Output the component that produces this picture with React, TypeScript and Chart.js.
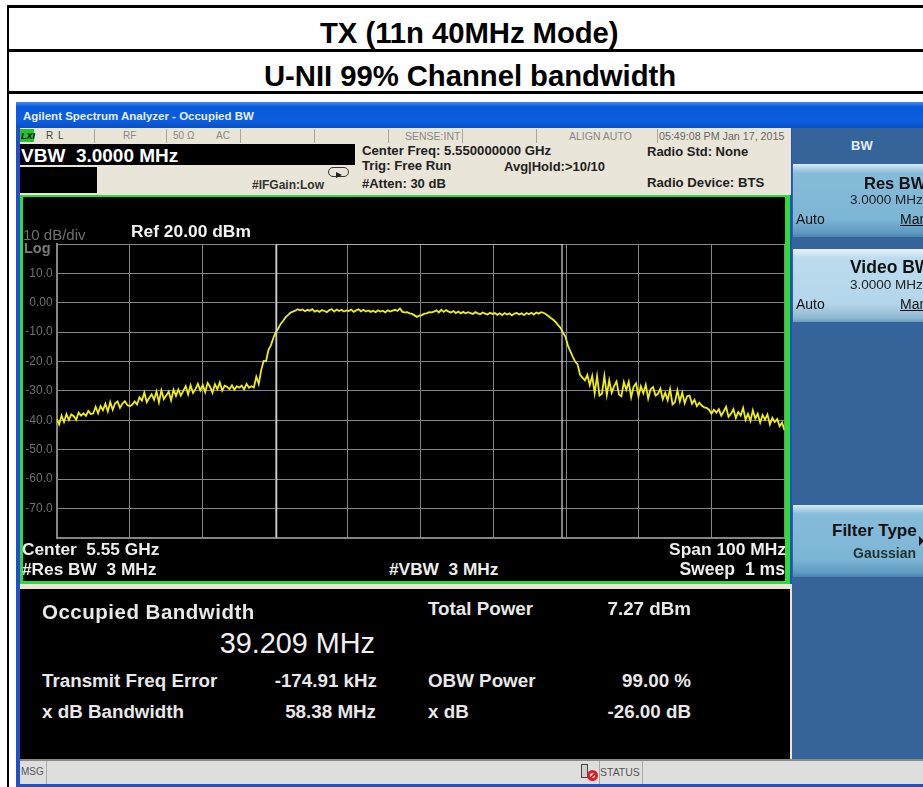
import React, { useEffect, useRef } from "react";
import { Chart, registerables } from "chart.js";

Chart.register(...registerables);

const SANS = '"Liberation Sans", Arial, sans-serif';

const spanMHz = 100;
const startMHz = -50;
const obwLeftMHz = -19.78;
const obwRightMHz = 19.43;
const refLevel = 20;
const bottomLevel = -80;

const yTickLabels = ["", "10.0", "0.00", "-10.0", "-20.0", "-30.0", "-40.0", "-50.0", "-60.0", "-70.0", ""];

const traceDb = [
  -39.6, -41.4, -38.4, -40.6, -37.9, -39.9, -38.0, -38.6, -39.8, -37.4,
  -38.4, -37.6, -38.5, -36.8, -37.9, -37.7, -35.4, -37.6, -35.2, -36.6,
  -34.4, -37.0, -33.8, -36.4, -34.2, -33.6, -35.8, -34.3, -33.5, -34.8,
  -35.2, -34.7, -33.6, -34.6, -32.2, -33.3, -30.6, -33.8, -32.4, -31.2,
  -33.0, -30.2, -33.9, -29.8, -32.8, -31.6, -30.2, -33.2, -29.6, -31.7,
  -29.5, -31.6, -30.0, -28.4, -31.2, -28.1, -30.7, -29.4, -27.6, -29.8,
  -28.0, -30.4, -27.3, -28.6, -30.6, -27.7, -29.4, -27.1, -29.9, -28.2,
  -28.6, -29.4, -28.1, -29.6, -28.4, -28.9, -28.2, -29.5, -27.6, -28.9,
  -28.4, -28.8, -25.2, -27.6, -23.0, -19.8, -19.9, -16.0, -14.5, -12.0,
  -10.0, -8.8, -7.2, -6.2, -5.0, -4.2, -3.4, -3.0, -2.7, -2.2,
  -2.6, -2.3, -2.9, -2.4, -2.7, -2.2, -3.0, -2.6, -3.1, -2.5,
  -2.8, -3.2, -2.5, -2.2, -3.0, -2.3, -2.8, -2.4, -3.0, -2.6,
  -2.8, -2.3, -3.1, -2.6, -2.2, -2.9, -2.4, -3.0, -2.6, -3.1,
  -2.7, -3.2, -2.6, -3.0, -2.7, -3.3, -2.6, -3.0, -2.7, -2.4,
  -2.8, -1.9, -3.1, -3.3, -3.2, -3.6, -3.8, -4.3, -4.8, -4.4,
  -4.2, -3.7, -3.6, -3.2, -3.3, -3.0, -2.6, -3.3, -2.4, -3.1,
  -2.5, -3.0, -3.3, -2.8, -3.5, -3.0, -3.6, -3.1, -3.6, -3.2,
  -3.5, -3.8, -3.2, -3.6, -3.9, -3.3, -3.7, -4.0, -3.4, -3.8,
  -3.5, -4.1, -3.6, -4.2, -3.5, -4.0, -3.6, -4.3, -3.7, -3.5,
  -4.0, -3.6, -4.2, -3.5, -3.9, -3.4, -4.0, -3.3, -3.7, -3.2,
  -3.4, -3.9, -4.5, -5.2, -5.8, -6.6, -7.6, -8.6, -10.2, -11.5,
  -14.5, -16.5, -18.3, -20.0, -21.0, -24.5, -25.5, -26.4, -24.6, -28.0,
  -24.9, -30.8, -25.0, -31.6, -31.0, -24.9, -31.4, -26.4, -30.6, -28.4,
  -26.8, -31.2, -31.8, -27.0, -29.6, -26.9, -32.2, -28.6, -27.4, -31.8,
  -28.4, -30.8, -27.9, -32.6, -29.4, -28.7, -31.6, -31.0, -29.2, -32.8,
  -30.6, -33.2, -29.4, -34.6, -33.8, -29.8, -33.6, -30.6, -34.2, -31.8,
  -31.6, -34.4, -33.0, -35.2, -34.0, -35.0, -35.6, -35.8, -36.4, -37.8,
  -36.4, -37.4, -36.2, -38.4, -37.0, -35.4, -38.8, -37.8, -36.2, -39.2,
  -37.2, -38.4, -35.8, -39.8, -37.8, -40.2, -36.6, -39.4, -37.8, -40.8,
  -38.2, -39.8, -38.0, -41.4, -39.2, -40.6, -39.6, -42.0, -40.8, -43.4,
];

const tracePoints = traceDb.map((y, i) => ({ x: startMHz + (i * spanMHz) / (traceDb.length - 1), y }));
const obwPoints = [
  { x: obwLeftMHz, y: bottomLevel },
  { x: obwLeftMHz, y: refLevel },
  { x: obwRightMHz, y: refLevel },
  { x: obwRightMHz, y: bottomLevel },
];

type TProps = {
  x?: number; r?: number; y: number; s: number; c?: string; b?: boolean | number;
  children: React.ReactNode; u?: boolean; ls?: number; i?: boolean;
};
function T({ x, r, y, s, c = "#000", b = false, children, u, ls, i }: TProps) {
  const style: React.CSSProperties = {
    position: "absolute",
    top: y,
    transform: "translateY(-50%)",
    fontFamily: SANS,
    fontSize: s,
    color: c,
    fontWeight: b === true ? 700 : b === false ? 400 : b,
    fontStyle: i ? "italic" : undefined,
    whiteSpace: "pre",
    lineHeight: 1,
    textDecoration: u ? "underline" : undefined,
    letterSpacing: ls,
  };
  if (r !== undefined) style.right = 923 - r;
  else style.left = x;
  return <div style={style}>{children}</div>;
}

function Box({ l, t, w, h, bg, extra }: { l: number; t: number; w: number; h: number; bg: string; extra?: React.CSSProperties }) {
  return <div style={{ position: "absolute", left: l, top: t, width: w, height: h, background: bg, ...extra }} />;
}

function TraceChart() {
  const ref = useRef<HTMLCanvasElement | null>(null);
  useEffect(() => {
    const chart = new Chart(ref.current as HTMLCanvasElement, {
      type: "line",
      data: {
        datasets: [
          { data: obwPoints, borderColor: "#d8d8d8", borderWidth: 1.2, pointRadius: 0, tension: 0 },
          { data: tracePoints, borderColor: "#eeee10", borderWidth: 1.8, pointRadius: 0, tension: 0 },
        ],
      },
      options: {
        animation: false,
        responsive: false,
        layout: { padding: { top: 46, right: 0.5, bottom: 0, left: 0 } },
        plugins: { legend: { display: false }, tooltip: { enabled: false } },
        scales: {
          x: {
            type: "linear",
            min: startMHz,
            max: startMHz + spanMHz,
            afterFit: (s: any) => { s.height = 0; },
            ticks: { display: false, stepSize: 10 },
            grid: { color: "#858585", lineWidth: 1, drawTicks: false },
            border: { color: "#858585", width: 2 },
          },
          y: {
            type: "linear",
            min: bottomLevel,
            max: refLevel,
            afterFit: (s: any) => { s.width = 33.7; },
            ticks: {
              stepSize: 10,
              padding: 4,
              color: "#6f6f6f",
              font: { family: SANS, size: 12 },
              callback: (v: any) => yTickLabels[(refLevel - Number(v)) / 10] ?? "",
            },
            grid: { color: "#858585", lineWidth: 1, drawTicks: false },
            border: { color: "#858585", width: 2 },
          },
        },
      },
    } as any);
    return () => chart.destroy();
  }, []);
  return (
    <canvas
      ref={ref}
      width={762}
      height={351}
      style={{ position: "absolute", left: 23, top: 198, width: 762, height: 351, display: "block" }}
    />
  );
}

function SoftKey({ t, h, light }: { t: number; h: number; light?: boolean }) {
  const g = light
    ? "linear-gradient(#eaf4fa 0px, #bcdcee 9px, #b4d6ea 75%, #8fb9d2 94%, #6f9cbd 100%)"
    : "linear-gradient(#d8eaf3 0px, #86bcda 9px, #7db5d5 75%, #5f9ac0 94%, #4a83ad 100%)";
  return <Box l={793} t={t} w={130} h={h} bg={g} />;
}

export default function App() {
  return (
    <div style={{ position: "fixed", left: 0, top: 0, width: 923, height: 787, background: "#fff", overflow: "hidden" }}>
      {/* document table */}
      <Box l={7} t={5} w={916} h={2.5} bg="#000" />
      <Box l={7} t={49} w={916} h={2.5} bg="#000" />
      <Box l={7} t={91} w={916} h={2.5} bg="#000" />
      <Box l={7} t={5} w={2} h={782} bg="#000" />
      <T x={320} y={33} s={29.3} b ls={-0.05}>TX (11n 40MHz Mode)</T>
      <T x={264} y={76} s={29.3} b ls={-0.05}>U-NII 99% Channel bandwidth</T>

      {/* analyzer window */}
      <div style={{ position: "absolute", left: 0, top: 0, width: 923, height: 787, filter: "blur(0.45px)" }}>
        <Box l={16} t={102} w={907} h={685} bg="#1e50c8" />
        <Box l={16} t={102} w={907} h={26} bg="linear-gradient(#3f8df0 0px, #0a58d8 5px, #0b5ee0 70%, #0a50c4 100%)" />
        <T x={23} y={117} s={11.5} b c="#e6eefb">Agilent Spectrum Analyzer - Occupied BW</T>

        {/* status row */}
        <Box l={20} t={128} w={771} h={15} bg="#e9e5d8" />
        <Box l={20} t={129} w={14} h={13} bg="#25c22c" />
        <T x={21} y={136} s={9} b i c="#000">LXI</T>
        <T x={46} y={135.5} s={10} c="#444" ls={1}>R L</T>
        <T x={123} y={135.5} s={10} c="#888">RF</T>
        <T x={173} y={135.5} s={10} c="#888">50 Ω</T>
        <T x={216} y={135.5} s={10} c="#888">AC</T>
        <T x={405} y={135.5} s={10.5} c="#888">SENSE:INT</T>
        <T x={569} y={135.5} s={10.5} c="#888">ALIGN AUTO</T>
        <T x={659} y={135.5} s={10.7} c="#666">05:49:08 PM Jan 17, 2015</T>
        {[94, 166, 240, 314, 388, 462, 536, 657].map((x) => (
          <Box key={x} l={x} t={129} w={1} h={14} bg="#a9a698" />
        ))}

        {/* info band */}
        <Box l={20} t={143} w={771} h={52} bg="#e9e5d8" />
        <Box l={20} t={144} w={335} h={21} bg="#000" />
        <Box l={20} t={167} w={77} h={26} bg="#000" />
        <T x={21} y={155} s={19} b c="#fff">VBW  3.0000 MHz</T>
        <T x={252} y={185} s={12} b c="#333">#IFGain:Low</T>
        <Box l={328} t={167} w={21} h={10} bg="transparent" extra={{ border: "1px solid #333", borderRadius: 5, boxSizing: "border-box" }} />
        <Box l={336} t={172} w={0} h={0} bg="transparent" extra={{ borderLeft: "6px solid #222", borderTop: "3px solid transparent", borderBottom: "3px solid transparent" }} />
        <T x={362} y={151} s={13.2} b c="#222">Center Freq: 5.550000000 GHz</T>
        <T x={362} y={166} s={13.2} b c="#222">Trig: Free Run</T>
        <T x={362} y={183} s={13} b c="#222">#Atten: 30 dB</T>
        <T x={504} y={166} s={13} b c="#222">Avg|Hold:&gt;10/10</T>
        <T x={647} y={151} s={13} b c="#222">Radio Std: None</T>
        <T x={647} y={183} s={13.2} b c="#222">Radio Device: BTS</T>

        {/* graticule frame */}
        <Box l={20} t={195} w={770} h={389} bg="#2fdc34" />
        <Box l={23} t={197} w={762} h={384} bg="#000" />
        <TraceChart />
        <T x={23} y={234} s={15} c="#6f6f6f">10 dB/div</T>
        <T x={131} y={232} s={17.4} b c="#f2f2f2">Ref 20.00 dBm</T>
        <T x={24} y={248} s={14.5} b c="#7a7a7a">Log</T>
        <T x={22} y={550} s={17.3} b c="#eee">Center  5.55 GHz</T>
        <T x={22} y={570} s={17.3} b c="#eee">#Res BW  3 MHz</T>
        <T x={389} y={570} s={17.3} b c="#eee">#VBW  3 MHz</T>
        <T r={786} y={550} s={17.4} b c="#eee">Span 100 MHz</T>
        <T r={785} y={570} s={17.6} b c="#eee">Sweep  1 ms</T>

        {/* result panel */}
        <Box l={20} t={584} w={772} h={5} bg="#e9e5d8" />
        <Box l={20} t={589} w={770} h={171} bg="#000" />
        <Box l={790} t={584} w={2} h={176} bg="#e9e5d8" />
        <T x={42} y={612} s={20.5} b c="#e8e8e8" ls={0.5}>Occupied Bandwidth</T>
        <T r={375} y={643} s={28.8} c="#f0f0f0">39.209 MHz</T>
        <T x={42} y={681} s={18.8} b c="#e8e8e8">Transmit Freq Error</T>
        <T r={377} y={681} s={18.8} b c="#e8e8e8">-174.91 kHz</T>
        <T x={42} y={712} s={18.8} b c="#e8e8e8">x dB Bandwidth</T>
        <T r={376} y={712} s={18.8} b c="#e8e8e8">58.38 MHz</T>
        <T x={428} y={609} s={18.8} b c="#e8e8e8">Total Power</T>
        <T r={691} y={609} s={18.8} b c="#e8e8e8">7.27 dBm</T>
        <T x={428} y={681} s={18.8} b c="#e8e8e8">OBW Power</T>
        <T r={691} y={681} s={18.8} b c="#e8e8e8">99.00 %</T>
        <T x={428} y={712} s={18.8} b c="#e8e8e8">x dB</T>
        <T r={691} y={712} s={18.8} b c="#e8e8e8">-26.00 dB</T>

        {/* softkey menu */}
        <Box l={792} t={128} w={131} h={632} bg="#35649a" />
        <T x={851} y={145} s={13} b c="#e4eef6">BW</T>
        <SoftKey t={164} h={73} />
        <SoftKey t={249} h={73} light />
        <SoftKey t={505} h={72} />
        <T x={864} y={183} s={16.5} b c="#111">Res BW</T>
        <T x={850} y={200} s={13.5} c="#222">3.0000 MHz</T>
        <T x={796} y={219} s={14} c="#111">Auto</T>
        <T x={900} y={219} s={14} c="#111" u>Man</T>
        <T x={850} y={268} s={17.5} b c="#111">Video BW</T>
        <T x={850} y={285} s={13.5} c="#222">3.0000 MHz</T>
        <T x={796} y={304} s={14} c="#111">Auto</T>
        <T x={900} y={304} s={14} c="#111" u>Man</T>
        <T x={832} y={530} s={17} b c="#111">Filter Type</T>
        <T x={853} y={553} s={14} b c="#233">Gaussian</T>
        <Box l={919} t={536} w={0} h={0} bg="transparent" extra={{ borderLeft: "5px solid #111", borderTop: "5px solid transparent", borderBottom: "5px solid transparent" }} />

        {/* message bar */}
        <Box l={20} t={760} w={903} h={24} bg="#dedede" />
        <Box l={20} t={759} w={903} h={2} bg="#8b8b86" />
        <T x={21} y={772} s={10} c="#555">MSG</T>
        <Box l={46} t={761} w={1} h={23} bg="#aaa" />
        <Box l={599} t={761} w={1} h={23} bg="#aaa" />
        <Box l={642} t={761} w={1} h={23} bg="#aaa" />
        <Box l={581} t={764} w={7} h={14} bg="#cfcfcf" extra={{ border: "1px solid #444", boxSizing: "border-box" }} />
        <Box l={587} t={770} w={11} h={11} bg="#fff" extra={{ border: "3px solid #d8202a", borderRadius: "50%", boxSizing: "border-box" }} />
        <Box l={588} t={774.5} w={9} h={2} bg="#d8202a" extra={{ transform: "rotate(-45deg)" }} />
        <T x={600} y={772} s={10.5} c="#555">STATUS</T>
      </div>
    </div>
  );
}
